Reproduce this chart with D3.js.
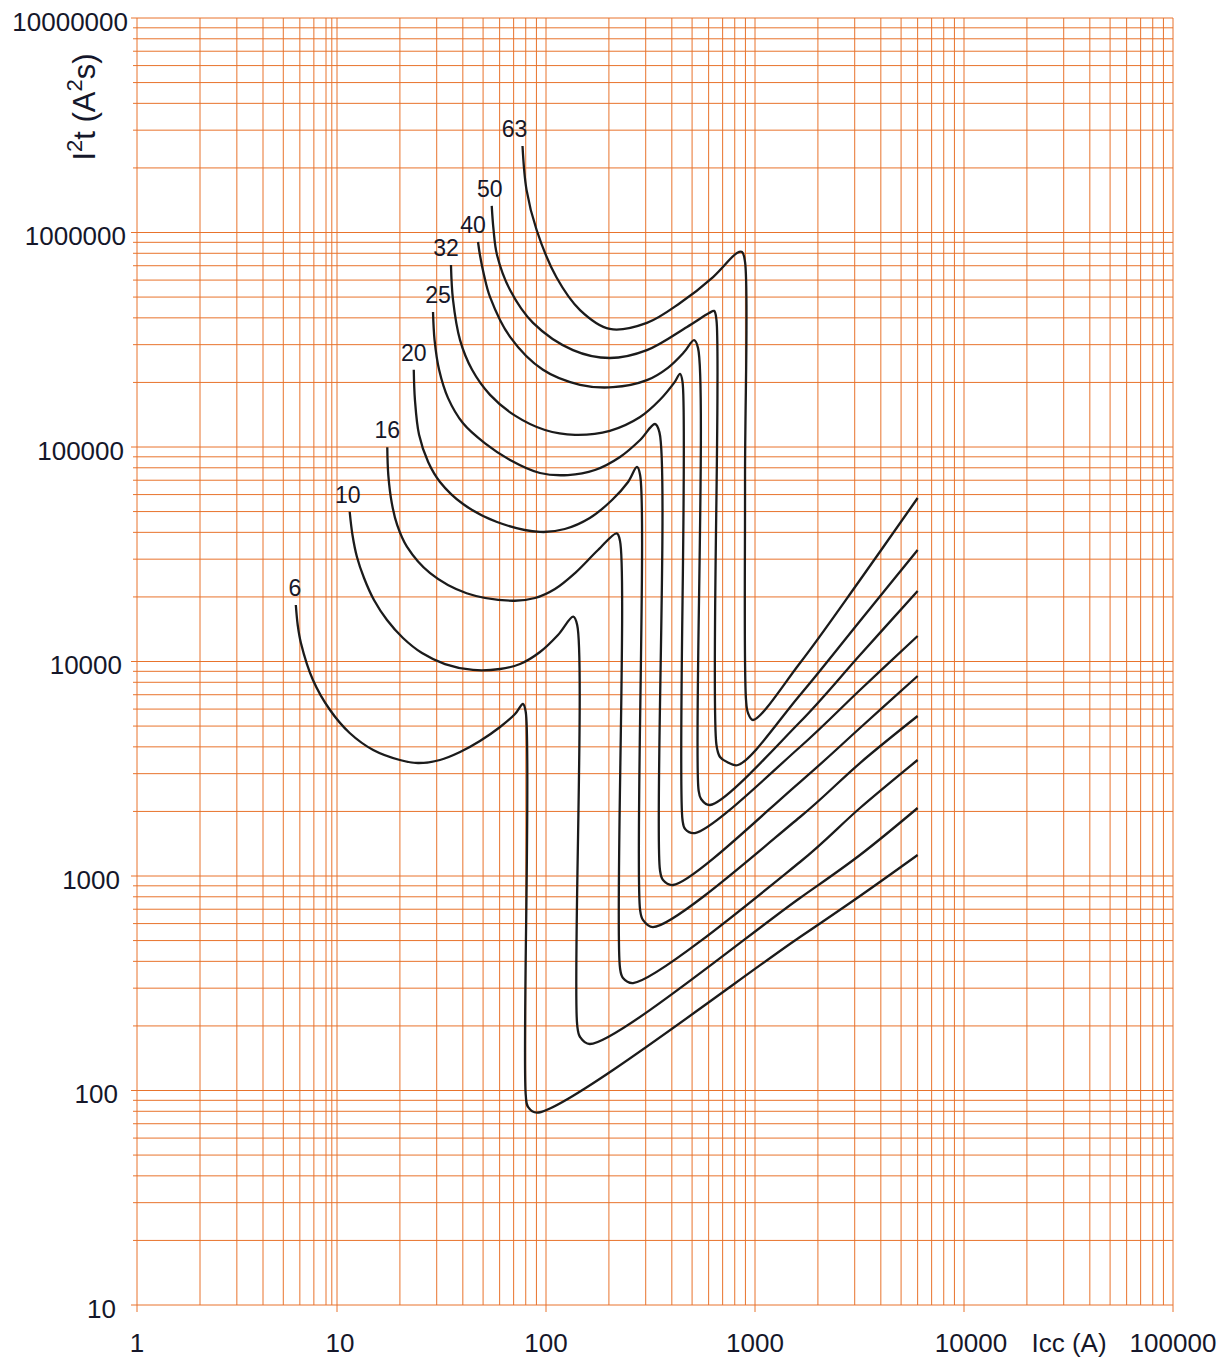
<!DOCTYPE html>
<html><head><meta charset="utf-8">
<script src="https://cdn.jsdelivr.net/npm/d3@7"></script>
<style>
body{margin:0;background:#fff}
svg{display:block}
text{font-family:"Liberation Sans",Arial,Helvetica,sans-serif}
</style>
</head><body>
<svg id="chart" width="1230" height="1358"></svg>
<script>
// ---- tick labels ----
const xTicks = [1, 10, 100, 1000, 10000, 100000];
const xTickLabels = ["1", "10", "100", "1000", "10000", "100000"];
const yTicks = [10, 100, 1000, 10000, 100000, 1000000, 10000000];
const yTickLabels = ["10", "100", "1000", "10000", "100000", "1000000", "10000000"];
const xTitle = "Icc (A)";

// ---- categories (rated current of each curve) ----
const ratings = ["6", "10", "16", "20", "25", "32", "40", "50", "63"];

// ---- series values: [Icc (A), I2t (A2s)] ----
const curve6 = [[5.74,18340],[5.86,14800],[6.07,12200],[6.93,8200],[8.68,5940],[11.5,4642],[14.9,3868],[20.0,3474],[24.4,3363],[31.1,3474],[38.8,3786],[48.3,4260],[60.3,4950],[71.1,5690],[77.6,6337],[80.0,5815],[80.0,95.3],[82.0,83.8],[90.6,78.8],[1642,519.5],[3180,807],[6000,1253]];
const curve10 = [[11.5,49900],[11.86,38880],[12.46,30700],[13.47,24510],[15.03,19350],[17.35,15610],[20.69,12870],[25.51,10950],[32.86,9730],[44.74,9130],[60.3,9226],[75.1,9730],[93.6,11070],[114.1,13290],[135,16180],[141,14800],[141,202],[145.5,177.6],[162,164.7],[1642,790],[3180,1253],[6000,2075]];
const curve16 = [[17.4,99700],[17.6,74000],[18.3,54600],[19.4,43300],[21.6,34300],[27.9,25800],[41.7,20800],[69.7,19200],[88.6,19770],[110.4,21780],[137.7,25850],[177.4,33100],[218,39600],[226,36500],[226,372.5],[233.5,334.6],[261,317],[1642,1162],[3180,2075],[6000,3474]];
const curve20 = [[23.3,229000],[23.6,166000],[24.7,114000],[27.3,85100],[31.1,68700],[40.1,54200],[58.3,44700],[93.6,40200],[123,41470],[162,46670],[207,56600],[247,68700],[272.5,80700],[282,74000],[282,694],[291,624],[325,578],[1642,1884],[3180,3363],[6000,5570]];
const curve25 = [[28.8,426000],[29.3,315000],[30.8,229000],[34.0,169000],[40.1,129000],[51.1,104000],[67.3,87000],[93.6,75640],[127.4,74000],[171.5,78120],[226,89820],[282,107800],[332,128000],[349,117000],[351,1067],[363,958],[405,908],[1642,2743],[3180,4898],[6000,8560]];
const curve32 = [[35.1,706000],[35.9,485000],[38.8,315000],[44.3,229000],[54.0,175000],[71.1,140000],[98.9,120000],[137.7,114000],[202,119000],[282,138000],[351,166000],[410,199000],[438,219000],[450,201000],[450,1824],[463,1656],[516,1586],[1642,3994],[3180,7363],[6000,13150]];
const curve40 = [[47.3,903000],[48.3,785000],[50.5,634000],[54.0,500000],[67.3,326000],[96.7,229000],[145.5,195000],[209,190000],[304,205000],[383,234000],[458,277000],[511,315000],[534,289000],[537,2517],[552,2286],[609,2143],[1642,5223],[3180,10720],[6000,21320]];
const curve50 = [[55.0,1330000],[56.1,1030000],[58.3,785000],[67.3,539000],[86.7,379000],[134.6,283000],[202,260000],[304,283000],[473,363000],[603,421000],[637,431000],[654,391000],[654,4080],[680,3588],[735,3400],[829,3292],[1642,6980],[3180,15450],[6000,33100]];
const curve63 = [[77.2,2530000],[80.7,1580000],[90.1,1030000],[112,620000],[145.5,435000],[202,355000],[304,379000],[438,469000],[630,620000],[820,802000],[867,811000],[896,729000],[896,70200],[906,6614],[926,5754],[978,5337],[1642,9840],[3180,23990],[6000,57830]];

const curves = [curve6, curve10, curve16, curve20, curve25, curve32, curve40, curve50, curve63];

// ---- drawing ----
const svg = d3.select("#chart");
// the first decade of the printed grid is slightly compressed
const x = d3.scaleLog().domain([1, 8, 10, 100000]).range([137, 326, 337, 1173]);
const y = d3.scaleLog().domain([10, 10000000]).range([1305, 18]);

const gridColor = "#e8732c";
const isDecade = v => Math.abs(Math.log10(v) - Math.round(Math.log10(v))) < 1e-9;

const xGrid = [];
for (let d = 1; d < 100000; d *= 10) for (let m = 1; m <= 9; m++) xGrid.push(d * m);
xGrid.push(100000);
const yGrid = [];
for (let d = 10; d < 10000000; d *= 10) for (let m = 1; m <= 9; m++) yGrid.push(d * m);
yGrid.push(10000000);

const grid = svg.append("g").attr("stroke", gridColor).attr("stroke-width", 1);
grid.selectAll("line.v").data(xGrid).join("line").attr("class", "v")
  .attr("x1", d => x(d)).attr("x2", d => x(d))
  .attr("y1", y(10000000)).attr("y2", d => isDecade(d) ? y(10) + 7 : y(10));
grid.selectAll("line.h").data(yGrid).join("line").attr("class", "h")
  .attr("y1", d => y(d)).attr("y2", d => y(d))
  .attr("x1", d => isDecade(d) ? x(1) - 6 : x(1) - 4).attr("x2", x(100000));

// tick labels
const textColor = "#15172a";
svg.append("g").selectAll("text").data(yTicks).join("text")
  .attr("x", d => 114 + 2 * Math.log10(d))
  .attr("y", d => y(d) + 12.5)
  .attr("text-anchor", "end").attr("font-size", 26).attr("fill", textColor)
  .text((d, i) => yTickLabels[i]);

svg.append("g").selectAll("text").data(xTicks).join("text")
  .attr("x", d => x(d) + (d === 10000 ? 7 : d === 10 ? 3 : 0))
  .attr("y", 1352)
  .attr("text-anchor", "middle").attr("font-size", 26).attr("fill", textColor)
  .text((d, i) => xTickLabels[i]);

svg.append("text").attr("x", 1069).attr("y", 1352).attr("text-anchor", "middle")
  .attr("font-size", 26).attr("fill", textColor).text(xTitle);

// y title: I²t (A²s)
const yt = svg.append("text").attr("transform", "translate(95,107) rotate(-90)")
  .attr("text-anchor", "middle").attr("font-size", 31).attr("fill", textColor);
yt.append("tspan").text("I");
yt.append("tspan").attr("font-size", 22).attr("dy", -13).text("2");
yt.append("tspan").attr("dy", 13).text("t (A");
yt.append("tspan").attr("font-size", 22).attr("dy", -13).text("2");
yt.append("tspan").attr("dy", 13).text("s)");

// curves
const line = d3.line().x(d => x(d[0])).y(d => y(d[1])).curve(d3.curveCatmullRom.alpha(0.5));
svg.append("g").selectAll("path").data(curves).join("path")
  .attr("d", line).attr("fill", "none").attr("stroke", "#1b1b1b")
  .attr("stroke-width", 2.3).attr("stroke-linejoin", "round").attr("stroke-linecap", "butt");

// curve labels (small horizontal nudges as printed)
const labelNudge = [-1, -2, 0, 0, 5, -5, -5, -2, -8];
svg.append("g").selectAll("text").data(curves).join("text")
  .attr("x", (d, i) => x(d[0][0]) + labelNudge[i])
  .attr("y", d => y(d[0][1]) - 9)
  .attr("text-anchor", "middle").attr("font-size", 23).attr("fill", textColor)
  .text((d, i) => ratings[i]);
</script>
</body></html>
